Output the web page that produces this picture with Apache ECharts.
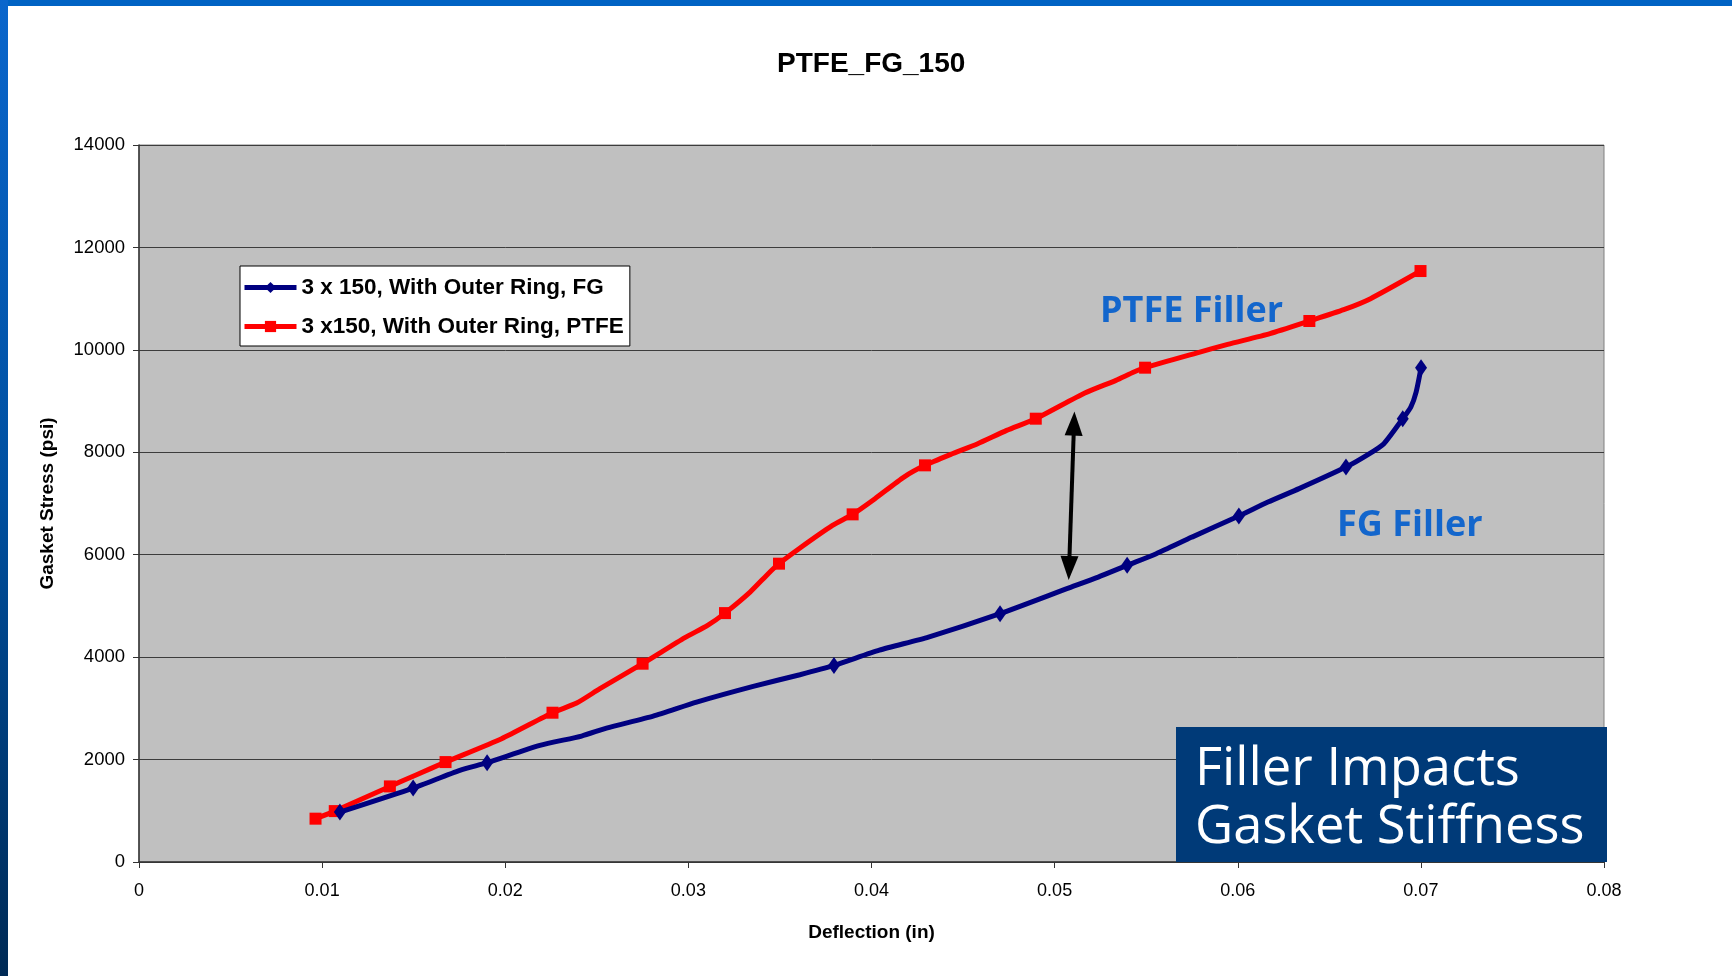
<!DOCTYPE html>
<html>
<head>
<meta charset="utf-8">
<title>PTFE_FG_150</title>
<script src="https://cdn.jsdelivr.net/npm/echarts@6/dist/echarts.min.js"></script>
<style>
html, body { margin: 0; padding: 0; background: #fff; }
#ech { width: 1732px; height: 976px; }
</style>
</head>
<body>
<div id="ech"></div>
<script>
// deflection (in) / gasket stress (psi), mark = 1 where excel drew a marker
var fgX = [0.01097, 0.01497, 0.01752, 0.01901, 0.02189, 0.02417, 0.02553, 0.02808, 0.03045, 0.03354,
           0.03609, 0.03795, 0.04043, 0.04311, 0.04702, 0.05067, 0.05238, 0.05396, 0.05555, 0.05750,
           0.06006, 0.06165, 0.06335, 0.06591, 0.06713, 0.06798, 0.06901, 0.06945, 0.06974, 0.07001];
var fgY = [974, 1443, 1789, 1939, 2277, 2459, 2615, 2849, 3122, 3429,
           3657, 3839, 4136, 4392, 4849, 5337, 5563, 5792, 6020, 6344,
           6755, 7028, 7290, 7711, 7959, 8168, 8656, 8883, 9176, 9652];
var fgMark = [1, 1, 0, 1, 0, 0, 0, 0, 0, 0,
              0, 1, 0, 0, 1, 0, 0, 1, 0, 0,
              1, 0, 0, 1, 0, 0, 1, 0, 0, 1];

var ptfeX = [0.00964, 0.01069, 0.01370, 0.01516, 0.01674, 0.01980, 0.02258, 0.02390, 0.02517, 0.02750,
             0.02981, 0.03105, 0.03200, 0.03337, 0.03436, 0.03495, 0.03604, 0.03787, 0.03897, 0.04019,
             0.04177, 0.04292, 0.04433, 0.04580, 0.04738, 0.04897, 0.05165, 0.05335, 0.05433, 0.05494,
             0.05774, 0.05945, 0.06176, 0.06391, 0.06579, 0.06725, 0.06998];
var ptfeY = [846, 994, 1476, 1705, 1951, 2408, 2915, 3103, 3384, 3872,
             4380, 4620, 4860, 5270, 5630, 5825, 6118, 6573, 6788, 7094,
             7516, 7745, 7959, 8168, 8428, 8656, 9157, 9405, 9567, 9652,
             9938, 10108, 10317, 10563, 10785, 11000, 11539];
var ptfeMark = [1, 1, 1, 0, 1, 0, 1, 0, 0, 1,
                0, 0, 1, 0, 0, 1, 0, 0, 1, 0,
                0, 1, 0, 0, 0, 1, 0, 0, 0, 1,
                0, 0, 0, 1, 0, 0, 1];

var seriesNames = ['3 x 150, With Outer Ring, FG', '3 x150, With Outer Ring, PTFE'];

// double arrow between the curves, in data units
var arrowTop = [0.05106, 8560];
var arrowBottom = [0.05079, 5740];

function buildData(xs, ys, marks) {
    var out = [];
    for (var i = 0; i < xs.length; i++) {
        var p = { value: [xs[i], ys[i]] };
        if (!marks[i]) p.symbol = 'none';
        out.push(p);
    }
    return out;
}

var myChart = echarts.init(document.getElementById('ech'));
var option = {
    backgroundColor: '#ffffff',
    animation: false,
    textStyle: { fontFamily: 'Liberation Sans, Arial, sans-serif' },
    title: {
        text: 'PTFE_FG_150',
        left: 772,
        top: 45,
        textStyle: { fontSize: 28, fontWeight: 'bold', color: '#000' }
    },
    legend: {
        orient: 'vertical',
        left: 240,
        top: 266,
        padding: [10, 6, 8, 2],
        itemGap: 16,
        itemWidth: 52,
        itemHeight: 14,
        itemTextGap: 1,
        backgroundColor: '#ffffff',
        borderColor: '#000000',
        borderWidth: 1,
        lineStyle: { width: 5 },
        data: seriesNames,
        textStyle: { fontSize: 22.5, fontWeight: 'bold', color: '#000' }
    },
    grid: {
        left: 139,
        right: 128,
        top: 145,
        bottom: 114,
        show: true,
        backgroundColor: '#c0c0c0',
        borderColor: '#808080',
        borderWidth: 1
    },
    xAxis: {
        type: 'value',
        min: 0,
        max: 0.08,
        interval: 0.01,
        name: 'Deflection (in)',
        nameLocation: 'middle',
        nameGap: 61,
        nameTextStyle: { fontSize: 19, fontWeight: 'bold', color: '#000' },
        axisLine: { lineStyle: { color: '#333', width: 1.5 } },
        axisTick: { show: true, length: 6, lineStyle: { color: '#333' } },
        axisLabel: {
            fontSize: 18, color: '#000', margin: 20,
            formatter: function (v) { return String(+v.toFixed(2)); }
        },
        splitLine: { show: false }
    },
    yAxis: {
        type: 'value',
        min: 0,
        max: 14000,
        interval: 2000,
        name: 'Gasket Stress (psi)',
        nameLocation: 'middle',
        nameGap: 82,
        nameTextStyle: { fontSize: 19, fontWeight: 'bold', color: '#000' },
        axisLine: { show: true, lineStyle: { color: '#333', width: 1.5 } },
        axisTick: { show: true, length: 6, lineStyle: { color: '#333' } },
        axisLabel: {
            fontSize: 18.5, color: '#000', margin: 14,
            formatter: function (v) { return String(v); }
        },
        splitLine: { show: true, lineStyle: { color: '#3c3c3c', width: 1 } }
    },
    series: [
        {
            name: seriesNames[0],
            type: 'line',
            z: 4,
            smooth: 0.2,
            symbol: 'diamond',
            symbolSize: [12, 17],
            showAllSymbol: true,
            lineStyle: { color: '#000080', width: 5 },
            itemStyle: { color: '#000080' },
            data: buildData(fgX, fgY, fgMark),
            markLine: {
                silent: true,
                symbol: ['triangle', 'triangle'],
                symbolSize: [18, 24],
                label: { show: false },
                lineStyle: { color: '#000', width: 4, type: 'solid' },
                data: [[{ coord: arrowTop }, { coord: arrowBottom }]]
            }
        },
        {
            name: seriesNames[1],
            type: 'line',
            z: 3,
            smooth: 0.2,
            symbol: 'rect',
            symbolSize: 12,
            showAllSymbol: true,
            lineStyle: { color: '#ff0000', width: 5 },
            itemStyle: { color: '#ff0000' },
            data: buildData(ptfeX, ptfeY, ptfeMark)
        }
    ],
    graphic: [
        // slide frame
        { type: 'rect', left: 0, top: 0, shape: { width: 1732, height: 6 }, style: { fill: '#0063c4' }, z: 10 },
        {
            type: 'rect', left: 0, top: 0, shape: { width: 8, height: 976 }, z: 10,
            style: {
                fill: new echarts.graphic.LinearGradient(0, 0, 0, 1, [
                    { offset: 0, color: '#0a66cc' },
                    { offset: 0.5, color: '#0050a0' },
                    { offset: 1, color: '#002a55' }
                ])
            }
        },
        // curve labels
        {
            type: 'text', left: 1100, top: 294, z: 20,
            style: { text: 'PTFE Filler', fill: '#1366cc', font: 'bold 36px "Open Sans", sans-serif' }
        },
        {
            type: 'text', left: 1337, top: 508, z: 20,
            style: { text: 'FG Filler', fill: '#1366cc', font: 'bold 36px "Open Sans", sans-serif' }
        },
        // callout box
        {
            type: 'rect', left: 1176, top: 727, z: 20,
            shape: { width: 431, height: 135 },
            style: { fill: '#003a78' }
        },
        {
            type: 'text', left: 1195, top: 741, z: 21,
            style: {
                text: 'Filler Impacts\nGasket Stiffness',
                fill: '#ffffff',
                font: '52.5px "Open Sans", sans-serif',
                lineHeight: 58
            }
        }
    ]
};
myChart.setOption(option);
</script>
</body>
</html>
